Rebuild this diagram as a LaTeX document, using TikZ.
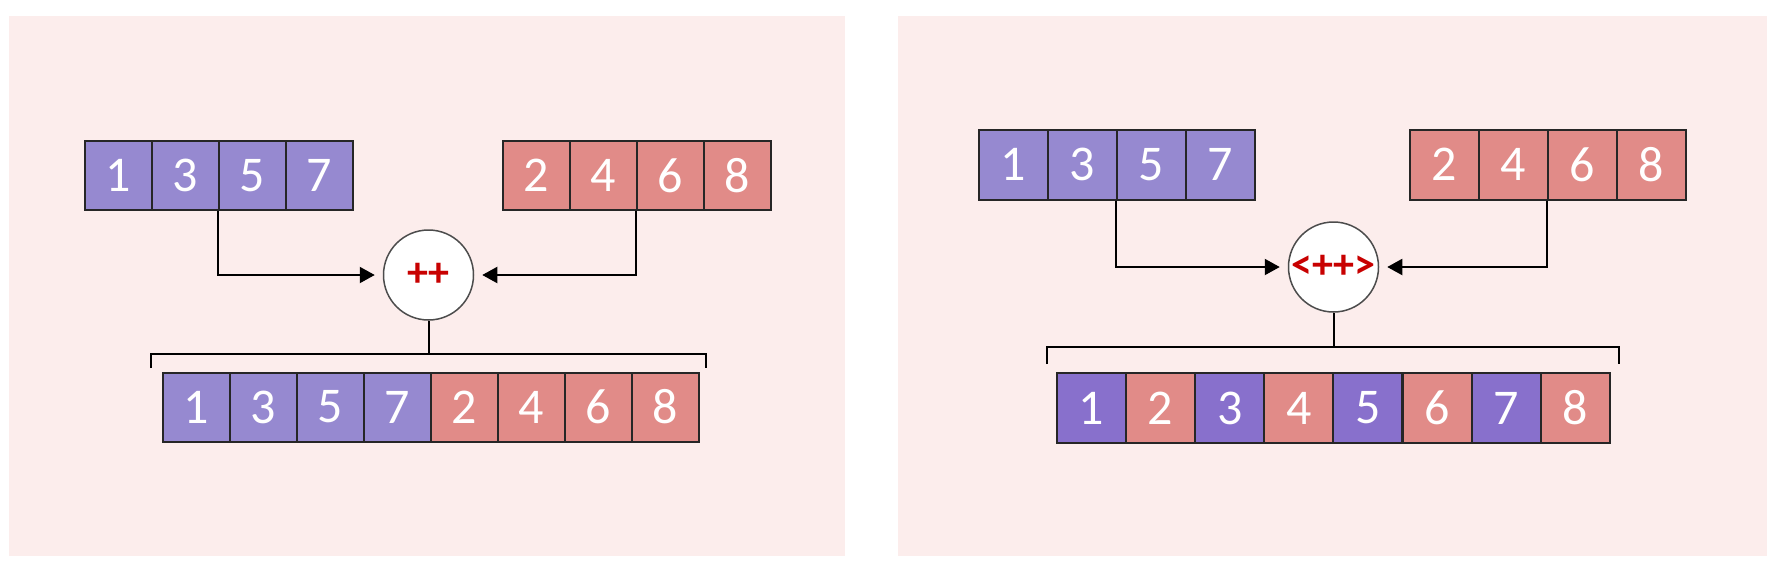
\documentclass[tikz,border=0pt]{standalone}
\usepackage{fontspec}
\setmainfont{Carlito}
\usetikzlibrary{arrows.meta}
\definecolor{bgp}{RGB}{252,237,236}
\definecolor{purp}{RGB}{150,137,208}
\definecolor{purpd}{RGB}{136,112,204}
\definecolor{salm}{RGB}{225,139,136}
\definecolor{opred}{RGB}{200,0,0}
\tikzset{
  cell/.style={draw=black!85, line width=2pt, minimum height=69pt, inner sep=0pt,
    text=white, font=\fontsize{50}{50}\selectfont},
  cellL/.style={cell, minimum width=67pt},
  cellR/.style={cell, minimum width=69pt, minimum height=70pt},
  op/.style={circle, draw=black!70, line width=1.5pt, fill=white, minimum size=90pt,
    inner sep=0pt, text=opred, font=\bfseries\fontsize{42}{42}\selectfont},
  conn/.style={line width=2pt, -{Triangle[length=15pt,width=16pt]}, shorten >=8pt},
  brk/.style={line width=2pt}
}
\begin{document}
\begin{tikzpicture}[x=1pt,y=-1pt]
\useasboundingbox (0,0) rectangle (1774,574);
\fill[white] (0,0) rectangle (1774,574);
\fill[bgp] (9,16) rectangle (845,556);
\fill[bgp] (898,16) rectangle (1767,556);

% ---------- left panel ----------
\foreach \v [count=\i from 0] in {1,3,5,7}
  \node[cellL, fill=purp] (LA\i) at (118.5+67*\i,175.5) {\v};
\foreach \v [count=\i from 0] in {2,4,6,8}
  \node[cellL, fill=salm] (LB\i) at (536.5+67*\i,175.5) {\v};
\node[op] (LO) at (428.5,275) {++};
\draw[conn] (LA2.south west) |- (LO.west);
\draw[conn] (LB2.south west) |- (LO.east);
\coordinate (LK) at (428.5,354);
\coordinate (LKl) at (151,368);
\coordinate (LKr) at (706,368);
\draw[brk] (LO.south) -- (LK);
\draw[brk] (LKl) -- (LKl |- LK) -- (LKr |- LK) -- (LKr);
\foreach \v [count=\i from 0] in {1,3,5,7}
  \node[cellL, fill=purp] (LC\i) at (196.5+67*\i,407) {\v};
\foreach \v [count=\i from 4] in {2,4,6,8}
  \node[cellL, fill=salm] (LC\i) at (196.5+67*\i,407) {\v};

% ---------- right panel ----------
\foreach \v [count=\i from 0] in {1,3,5,7}
  \node[cellR, fill=purp] (RA\i) at (1013.5+69*\i,164.5) {\v};
\foreach \v [count=\i from 0] in {2,4,6,8}
  \node[cellR, fill=salm] (RB\i) at (1444.5+69*\i,164.5) {\v};
\node[op] (RO) at (1333.5,267) {<++>};
\draw[conn] (RA2.south west) |- (RO.west);
\draw[conn] (RB2.south west) |- (RO.east);
\coordinate (RK) at (1333.5,347);
\coordinate (RKl) at (1047,364);
\coordinate (RKr) at (1619,364);
\draw[brk] (RO.south) -- (RK);
\draw[brk] (RKl) -- (RKl |- RK) -- (RKr |- RK) -- (RKr);
\foreach \v [count=\i from 0] in {1,3,5,7}
  \node[cellR, fill=purpd] (RC\i) at (1091.5+138.2*\i,408) {\v};
\foreach \v [count=\i from 0] in {2,4,6,8}
  \node[cellR, fill=salm] (RD\i) at (1160.6+138.2*\i,408) {\v};
\end{tikzpicture}
\end{document}
